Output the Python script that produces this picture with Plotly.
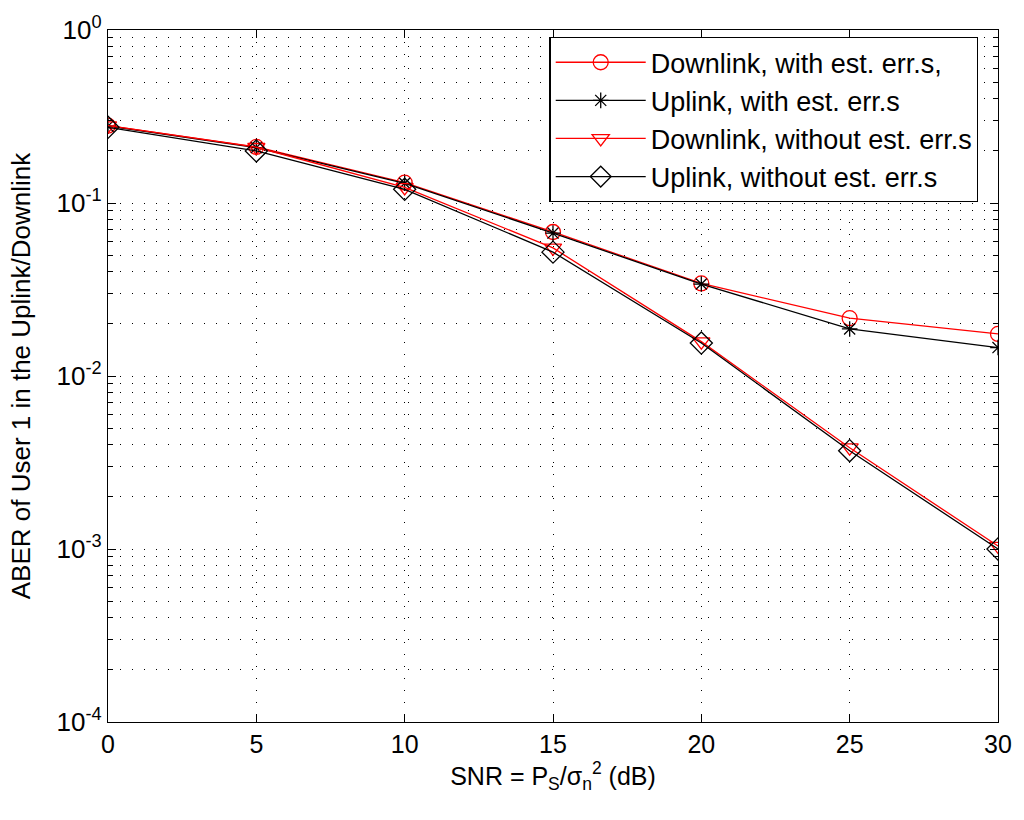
import plotly.graph_objects as go

# SNR points (dB)
snr = [0, 5, 10, 15, 20, 25, 30]

# average bit error rate of user 1
down_est = [0.280, 0.211, 0.131, 0.068, 0.0343, 0.0216, 0.0175]
up_est = [0.278, 0.209, 0.130, 0.067, 0.0340, 0.0187, 0.0146]
down_noest = [0.280, 0.210, 0.123, 0.055, 0.0158, 0.00385, 0.00104]
up_noest = [0.274, 0.200, 0.120, 0.052, 0.0155, 0.0037, 0.00100]

series = [
    ("Downlink, with est. err.s,", down_est, "red", "circle-open", 15),
    ("Uplink, with est. err.s", up_est, "black", "asterisk-open", 13),
    ("Downlink, without est. err.s", down_noest, "red", "triangle-down-open", 15),
    ("Uplink, without est. err.s", up_noest, "black", "diamond-open", 17),
]

ytick_vals = [1, 0.1, 0.01, 0.001, 0.0001]
ytick_text = ["10<sup>0</sup>", "10<sup>-1</sup>", "10<sup>-2</sup>",
              "10<sup>-3</sup>", "10<sup>-4</sup>"]
xtick_vals = [0, 5, 10, 15, 20, 25, 30]

fig = go.Figure()
for name, vals, color, sym, size in series:
    fig.add_trace(go.Scatter(
        x=snr, y=vals, name=name, mode="lines+markers",
        line=dict(color=color, width=1.3),
        marker=dict(symbol=sym, size=size, color=color,
                    line=dict(color=color, width=1.3)),
    ))

font = "Liberation Sans, Arial, sans-serif"
grid_dash = "1px,11px"
fig.update_layout(
    width=1024, height=820,
    margin=dict(l=108, r=21, t=23, b=98),
    paper_bgcolor="white", plot_bgcolor="white",
    font=dict(family=font, size=25, color="black"),
    showlegend=True,
    legend=dict(
        x=0.978, y=0.99, xanchor="right", yanchor="top",
        bgcolor="white", bordercolor="black", borderwidth=1.3,
        font=dict(size=27), tracegroupgap=0, itemwidth=90,
    ),
)
fig.update_xaxes(
    range=[0, 30], tickvals=xtick_vals,
    showline=True, linecolor="black", linewidth=1.3, mirror="ticks",
    ticks="inside", ticklen=8, tickcolor="black",
    showgrid=True, gridcolor="black", griddash=grid_dash, gridwidth=1,
    zeroline=False, tickfont=dict(size=25),
    title=dict(text="SNR = P<sub>S</sub>/σ<sub>n</sub><sup>2</sup> (dB)",
               standoff=8, font=dict(size=25)),
)
fig.update_yaxes(
    type="log", range=[-4, 0],
    tickvals=ytick_vals, ticktext=ytick_text,
    showline=True, linecolor="black", linewidth=1.3, mirror="ticks",
    ticks="inside", ticklen=8, tickcolor="black",
    showgrid=True, gridcolor="black", griddash=grid_dash, gridwidth=1,
    minor=dict(dtick="D1", ticks="inside", ticklen=5, tickcolor="black",
               showgrid=True, gridcolor="black", griddash=grid_dash, gridwidth=1),
    zeroline=False, tickfont=dict(size=26),
    title=dict(text="ABER of User 1 in the Uplink/Downlink",
               standoff=18, font=dict(size=26)),
)

fig.write_html("out.html")
